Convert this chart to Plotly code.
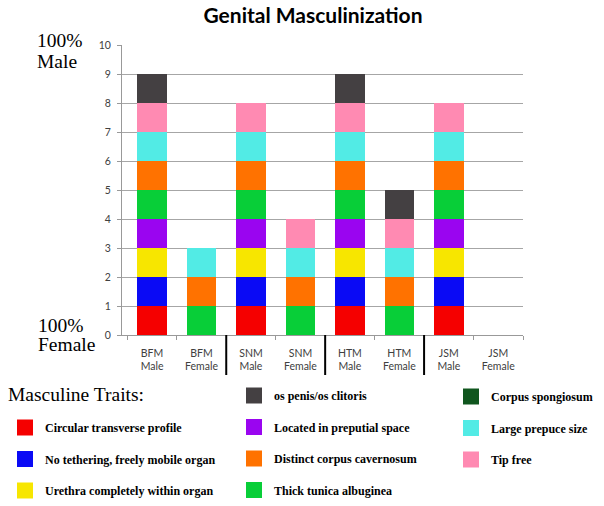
import plotly.graph_objects as go

# ---------------- data ----------------
categories = ["BFM<br>Male", "BFM<br>Female", "SNM<br>Male", "SNM<br>Female",
              "HTM<br>Male", "HTM<br>Female", "JSM<br>Male", "JSM<br>Female"]

# presence (1) / absence (0) of each masculine trait, in stacking order
circular_profile = [1, 0, 1, 0, 1, 0, 1, 0]
no_tethering     = [1, 0, 1, 0, 1, 0, 1, 0]
urethra_within   = [1, 0, 1, 0, 1, 0, 1, 0]
preputial_space  = [1, 0, 1, 0, 1, 0, 1, 0]
tunica_albuginea = [1, 1, 1, 1, 1, 1, 1, 0]
corpus_cavernos  = [1, 1, 1, 1, 1, 1, 1, 0]
large_prepuce    = [1, 1, 1, 1, 1, 1, 1, 0]
tip_free         = [1, 0, 1, 1, 1, 1, 1, 0]
os_penis         = [1, 0, 0, 0, 1, 1, 0, 0]
corpus_spongios  = [0, 0, 0, 0, 0, 0, 0, 0]

trait_names = ["Circular transverse profile", "No tethering, freely mobile organ",
               "Urethra completely within organ", "Located in preputial space",
               "Thick tunica albuginea", "Distinct corpus cavernosum",
               "Large prepuce size", "Tip free", "os penis/os clitoris",
               "Corpus spongiosum"]
trait_values = [circular_profile, no_tethering, urethra_within, preputial_space,
                tunica_albuginea, corpus_cavernos, large_prepuce, tip_free,
                os_penis, corpus_spongios]
trait_colors = ["#F50000", "#0A0AF5", "#F7E600", "#9A05F0", "#08CE38",
                "#FF7200", "#52EBE5", "#FF8AB2", "#444042", "#10561E"]

# legend layout: (legend id, rank within column)
legend_slot = [("legend", 1), ("legend", 2), ("legend", 3),
               ("legend2", 2), ("legend2", 4), ("legend2", 3),
               ("legend3", 2), ("legend3", 3), ("legend2", 1),
               ("legend3", 1)]

group_size = 2  # Male/Female pair per species

fig = go.Figure()
for name, vals, col in zip(trait_names, trait_values, trait_colors):
    fig.add_trace(go.Bar(x=categories, y=vals, name=name, marker_color=col,
                         marker_line_width=0, showlegend=False, legendgroup=name))
for name, col, (lg, rank) in zip(trait_names, trait_colors, legend_slot):
    fig.add_trace(go.Scatter(x=[categories[0]], y=[None], mode="markers", name=name,
                             marker=dict(symbol="square", size=16, color=col),
                             legend=lg, legendrank=rank, legendgroup=name,
                             showlegend=True, hoverinfo="skip"))

# group separators between species pairs
for k in range(1, len(categories) // group_size):
    xb = k * group_size - 0.5
    fig.add_shape(type="line", xref="x", yref="paper", x0=xb, x1=xb,
                  y0=0, y1=-0.138, line=dict(color="black", width=2))

legend_font = dict(family="Liberation Serif", size=12, color="black", weight="bold")
common_legend = dict(orientation="v", xref="container", yref="container",
                     xanchor="left", yanchor="top", font=legend_font,
                     bgcolor="rgba(0,0,0,0)", tracegroupgap=12.5,
                     itemsizing="trace")

serif = "Liberation Serif"
ann = [
    dict(text="100%", x=-0.216, y=(335 - 41) / 290, xanchor="left", yanchor="middle"),
    dict(text="Male", x=-0.216, y=(335 - 61) / 290, xanchor="left", yanchor="middle"),
    dict(text="100%", x=-0.214, y=(335 - 325) / 290, xanchor="left", yanchor="middle"),
    dict(text="Female", x=-0.214, y=(335 - 344) / 290, xanchor="left", yanchor="middle"),
    dict(text="Masculine Traits:", x=(6 - 122) / 401, y=(335 - 394) / 290,
         xanchor="left", yanchor="middle"),
]
for a in ann:
    a.update(xref="paper", yref="paper", showarrow=False,
             font=dict(family=serif, size=19.5, color="black"))

fig.update_layout(
    width=604, height=506,
    margin=dict(l=122, r=81, t=45, b=171, autoexpand=False),
    paper_bgcolor="white", plot_bgcolor="white",
    barmode="stack", bargap=0.4,
    title=dict(text="Genital Masculinization", x=313 / 604, xanchor="center",
               y=1 - 16 / 506, yanchor="middle", xref="container", yref="container",
               font=dict(family="Lato", size=21, color="black", weight="bold")),
    xaxis=dict(type="category", tickson="boundaries", ticks="outside", ticklen=4,
               tickcolor="#999999", showline=True, linecolor="#999999", linewidth=1,
               showgrid=False, tickangle=0, ticklabelstandoff=8,
               tickfont=dict(family="Lato", size=10.5, color="#404040")),
    yaxis=dict(range=[0, 10], dtick=1, showgrid=True, gridcolor="#A6A6A6",
               gridwidth=1, showline=True, linecolor="#999999", ticks="outside",
               ticklen=4, tickcolor="#999999", zeroline=False, ticklabelstandoff=4,
               tickfont=dict(family="Lato", size=10.5, color="#404040")),
    legend=dict(x=5 / 604, y=1 - 413 / 506, **common_legend),
    legend2=dict(x=234 / 604, y=1 - 381 / 506, **common_legend),
    legend3=dict(x=451 / 604, y=1 - 382 / 506, **common_legend),
    annotations=ann,
    showlegend=True,
)

fig.write_html("out.html", config={"displayModeBar": False},
               post_script="document.body.style.margin='0';document.body.style.overflow='hidden';")
